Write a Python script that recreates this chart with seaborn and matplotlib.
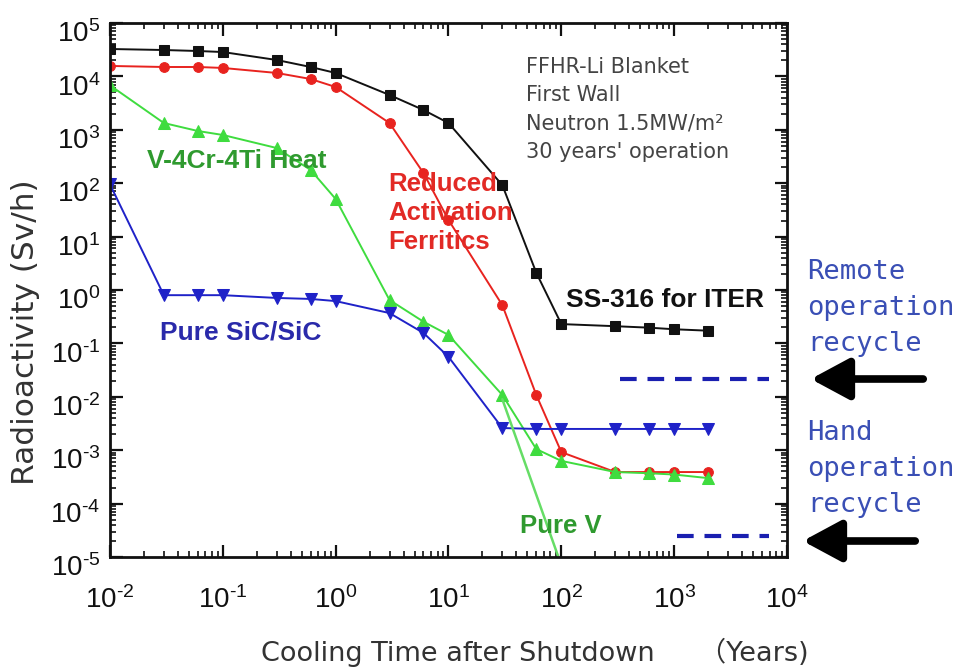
import numpy as np
import pandas as pd
import matplotlib
matplotlib.use("Agg")
import matplotlib.pyplot as plt
from matplotlib.patches import FancyArrowPatch
from matplotlib.transforms import ScaledTranslation
import seaborn as sns
from matplotlib.ticker import LogLocator, FixedLocator, NullFormatter, FuncFormatter

# Cooling time after shutdown (years)
cool_time = [0.01, 0.03, 0.06, 0.1, 0.3, 0.6, 1, 3, 6, 10, 30, 60, 100, 300, 600, 1000, 2000]

# Dose rate (Sv/h) for each first-wall material
ss316 = [32600, 31200, 29900, 28600, 20300, 15000, 11600, 4490, 2350, 1340,
         92, 2.1, 0.23, 0.21, 0.197, 0.184, 0.173]
raf = [15700, 15000, 15000, 14400, 11600, 8940, 6330, 1340, 155, 20.5,
       0.52, 0.0108, 9.2e-4, 3.9e-4, 3.9e-4, 3.9e-4, 3.9e-4]
v4cr4ti = [6800, 1340, 950, 800, 456, 177, 50.6, 0.65, 0.255, 0.144,
           0.0108, 1.05e-3, 6.3e-4, 3.9e-4, 3.7e-4, 3.5e-4, 3.0e-4]
sic = [95, 0.80, 0.80, 0.80, 0.71, 0.68, 0.62, 0.37, 0.157, 0.056,
       2.6e-3, 2.5e-3, 2.5e-3, 2.5e-3, 2.5e-3, 2.5e-3, 2.5e-3]

pure_v_time = [30, 100]
pure_v = [9e-3, 7e-6]

# Recycling limits (Sv/h) and the time spans over which they are drawn
remote_level = 0.0215
remote_span = [330, 6900]
hand_level = 2.5e-5
hand_span = [1070, 6900]

# Decade ticks
x_decades = [1e-2, 1e-1, 1e0, 1e1, 1e2, 1e3, 1e4]
y_decades = [1e-5, 1e-4, 1e-3, 1e-2, 1e-1, 1e0, 1e1, 1e2, 1e3, 1e4, 1e5]

sns.set_theme(style="ticks")
plt.rcParams["font.family"] = ["Liberation Sans", "DejaVu Sans"]
plt.rcParams["mathtext.fontset"] = "custom"
plt.rcParams["mathtext.rm"] = "Liberation Sans"
plt.rcParams["mathtext.it"] = "Liberation Sans"
plt.rcParams["mathtext.bf"] = "Liberation Sans:bold"

fig = plt.figure(figsize=(9.6, 6.69), dpi=100)
ax = fig.add_axes([110 / 960, 1 - 557 / 669, 677 / 960, 534 / 669])

c_black = "#111111"
c_red = "#e8231f"
c_green = "#3fdc3f"
c_blue = "#1f22c8"

series = [
    (ss316, c_black, "s", 6.5),
    (raf, c_red, "o", 7),
    (v4cr4ti, c_green, "^", 8),
    (sic, c_blue, "v", 8),
]
for vals, col, mk, ms in series:
    df = pd.DataFrame({"t": cool_time, "dose": vals})
    sns.lineplot(data=df, x="t", y="dose", ax=ax, color=col, marker=mk,
                 markersize=ms, markeredgecolor=col, linewidth=1.4,
                 estimator=None, sort=False)

sns.lineplot(x=pure_v_time, y=pure_v, ax=ax, color="#66dd66", linewidth=1.8,
             estimator=None, sort=False)

ax.hlines([remote_level], remote_span[0], remote_span[1], colors="#1a1fb0",
          linestyles=(0, (4, 2.6)), linewidth=3)
ax.hlines([hand_level], hand_span[0], hand_span[1], colors="#1a1fb0",
          linestyles=(0, (4, 2.6)), linewidth=3)

ax.set_xscale("log")
ax.set_yscale("log")
ax.set_xlim(x_decades[0], x_decades[-1])
ax.set_ylim(y_decades[0], y_decades[-1])


def decade_label(v, pos):
    e = int(round(np.log10(v)))
    s = str(e).replace("-", "\u2010")
    return "$10^{%s}$" % s


ax.xaxis.set_major_locator(FixedLocator(x_decades))
ax.yaxis.set_major_locator(FixedLocator(y_decades))
ax.xaxis.set_major_formatter(FuncFormatter(decade_label))
ax.yaxis.set_major_formatter(FuncFormatter(decade_label))
ax.xaxis.set_minor_locator(LogLocator(base=10, subs=np.arange(2, 10), numticks=12))
ax.yaxis.set_minor_locator(LogLocator(base=10, subs=np.arange(2, 10), numticks=12))
ax.xaxis.set_minor_formatter(NullFormatter())
ax.yaxis.set_minor_formatter(NullFormatter())

ax.tick_params(which="both", direction="in", top=True, right=True, colors="#111111")
ax.tick_params(which="major", length=9, width=1.6, labelsize=20)
ax.tick_params(axis="x", which="major", pad=21)
ax.tick_params(axis="y", which="major", pad=7)
ax.tick_params(which="minor", length=4.5, width=1.2)
for sp in ax.spines.values():
    sp.set_linewidth(2)
    sp.set_color("#111111")

# y tick labels sit slightly below their ticks
shift = ScaledTranslation(0, -6 / 72, fig.dpi_scale_trans)
for lbl in ax.get_yticklabels():
    lbl.set_transform(lbl.get_transform() + shift)

ax.set_xlabel("Cooling Time after Shutdown\u3000  \uff08Years)", fontsize=19.5,
              color="#333333", family=["DejaVu Sans", "Noto Sans CJK JP"])
ax.xaxis.set_label_coords(0.628, -0.152)
ax.set_ylabel("Radioactivity (Sv/h)", fontsize=22.5, color="#333333",
              family=["DejaVu Sans"])
ax.yaxis.set_label_coords(-0.104, 0.421)

# Case description
ax.text(0.614, 0.937, "FFHR-Li Blanket\nFirst Wall\nNeutron 1.5MW/m\u00b2\n30 years' operation",
        transform=ax.transAxes, fontsize=15, color="#444444", va="top",
        ha="left", linespacing=1.52, family=["DejaVu Sans"])

# Series labels
ax.text(0.055, 0.742, "V-4Cr-4Ti Heat", transform=ax.transAxes, fontsize=19,
        color="#2f9a2f", fontweight="bold", va="center")
ax.text(0.411, 0.644, "Reduced\nActivation\nFerritics", transform=ax.transAxes,
        fontsize=18.5, color="#e22a25", fontweight="bold", va="center",
        linespacing=1.25)
ax.text(0.674, 0.482, "SS-316 for ITER", transform=ax.transAxes, fontsize=19,
        color="#111111", fontweight="bold", va="center")
ax.text(0.074, 0.42, "Pure SiC/SiC", transform=ax.transAxes, fontsize=19,
        color="#2a2aaa", fontweight="bold", va="center")
ax.text(0.606, 0.058, "Pure V", transform=ax.transAxes, fontsize=18.5,
        color="#2f9a2f", fontweight="bold", va="center")

# Recycling limits outside the axes
fig.text(807 / 960, 1 - 259 / 669, "Remote\noperation\nrecycle", fontsize=19.5,
         color="#3a4fb5", family="DejaVu Sans Mono", va="top", ha="left",
         linespacing=1.5)
fig.text(807 / 960, 1 - 420 / 669, "Hand\noperation\nrecycle", fontsize=19.5,
         color="#3a4fb5", family="DejaVu Sans Mono", va="top", ha="left",
         linespacing=1.5)
for x0, x1, yy in [(926, 808, 379), (918, 800, 541)]:
    fig.add_artist(FancyArrowPatch(
        (x0 / 960, 1 - yy / 669), (x1 / 960, 1 - yy / 669),
        transform=fig.transFigure, mutation_scale=18,
        arrowstyle="-|>,head_length=1.3,head_width=0.7", color="black", lw=5.5))

fig.savefig("out.png", dpi=100, facecolor="white")
